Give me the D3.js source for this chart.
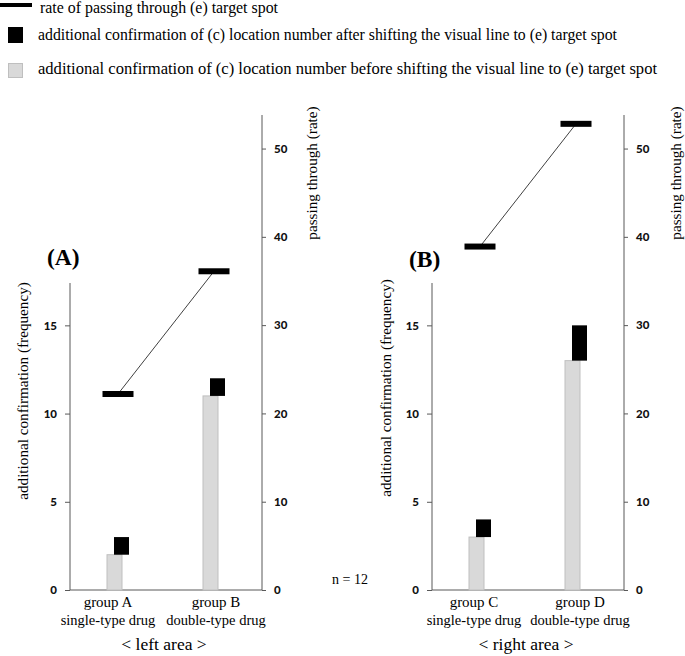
<!DOCTYPE html>
<html>
<head>
<meta charset="utf-8">
<script src="https://cdn.jsdelivr.net/npm/d3@7"></script>
<style>
  html, body { margin: 0; padding: 0; background: #fff; }
  svg { display: block; }
</style>
</head>
<body>
<svg id="chart" width="685" height="656"></svg>
<script>
// ---------- data ----------
const categories = ["group A", "group B", "group C", "group D"];
const drugTypes = ["single-type drug", "double-type drug", "single-type drug", "double-type drug"];
const panelNames = ["(A)", "(B)"];
const areaNames = ["< left area >", "< right area >"];
const beforeFreq = [2, 11, 3, 13];     // before shifting (grey bar)
const afterFreq = [3, 12, 4, 15];      // after shifting (black block top)
const passRate = [22.2, 36.1, 38.9, 52.8];
const freqTicks = [0, 5, 10, 15];
const rateTicks = [0, 10, 20, 30, 40, 50];
const legendLabels = [
  "rate of passing through (e) target spot",
  "additional confirmation of (c) location number after shifting the visual line to (e) target spot",
  "additional confirmation of (c) location number before shifting the visual line to (e) target spot"
];
const freqTitle = "additional confirmation (frequency)";
const rateTitle = "passing through (rate)";
const sampleNote = "n = 12";

// ---------- layout ----------
const svg = d3.select("#chart");
const serif = "'Liberation Serif', 'Times New Roman', serif";
const tickFont = "Lato, 'Open Sans', sans-serif";
const axisColor = "#595959";
const greyFill = "#d9d9d9", greyStroke = "#bfbfbf";

const yBottom = 590;
const freqMax = 17.4, rateMax = 53.8;
const yFreq = d3.scaleLinear().domain([0, freqMax]).range([yBottom, 283]);
const yRate = d3.scaleLinear().domain([0, rateMax]).range([yBottom, 115]);

const panels = [
  { left: 70, right: 262, idx: [0, 1], titleX: 47, titleY: 265, labelDx: [-10, 2],
    freqTitleX: 28, freqTitleY: 391, rateTitleX: 317, rateTitleY: 173 },
  { left: 432, right: 624, idx: [2, 3], titleX: 409, titleY: 267, labelDx: [-6, 4],
    freqTitleX: 391, freqTitleY: 388, rateTitleX: 681, rateTitleY: 173 }
];

const series = ["before", "after"];
const xSub = d3.scalePoint().domain(series).range([-3.5, 3.5]);
const barW = 15, rateW = 31, rateH = 6;

panels.forEach((p, pi) => {
  const cats = p.idx.map(i => categories[i]);
  const x = d3.scaleBand().domain(cats).range([p.left, p.right]).padding(0);
  const cx = c => x(c) + x.bandwidth() / 2;
  const g = svg.append("g");

  const axL = g.append("g").attr("transform", `translate(${p.left},0)`)
    .call(d3.axisLeft(yFreq).tickValues(freqTicks).tickSize(5).tickPadding(8).tickFormat(d3.format("d")));
  const axR = g.append("g").attr("transform", `translate(${p.right},0)`)
    .call(d3.axisRight(yRate).tickValues(rateTicks).tickSize(4).tickPadding(8).tickFormat(d3.format("d")));
  [axL, axR].forEach(a => {
    a.select(".domain").remove();
    a.selectAll(".tick line").attr("stroke", axisColor);
    a.selectAll(".tick text").attr("font-family", tickFont).attr("font-weight", "900")
      .attr("font-size", 11.5).attr("fill", "#111");
  });
  g.append("line").attr("x1", p.left).attr("x2", p.left)
    .attr("y1", yFreq(0)).attr("y2", yFreq(freqMax)).attr("stroke", axisColor);
  g.append("line").attr("x1", p.right).attr("x2", p.right)
    .attr("y1", yRate(0)).attr("y2", yRate(rateMax)).attr("stroke", axisColor);
  g.append("line").attr("x1", p.left).attr("x2", p.right)
    .attr("y1", yFreq(0)).attr("y2", yFreq(0)).attr("stroke", axisColor);

  const rows = p.idx.map(i => ({ cat: categories[i], drug: drugTypes[i],
    before: beforeFreq[i], after: afterFreq[i], rate: passRate[i] }));

  g.selectAll("rect.before").data(rows).join("rect").attr("class", "before")
    .attr("x", d => cx(d.cat) + xSub("before") - barW / 2)
    .attr("width", barW)
    .attr("y", d => yFreq(d.before))
    .attr("height", d => yFreq(0) - yFreq(d.before))
    .attr("fill", greyFill).attr("stroke", greyStroke).attr("stroke-width", 1);

  g.selectAll("rect.after").data(rows).join("rect").attr("class", "after")
    .attr("x", d => cx(d.cat) + xSub("after") - barW / 2)
    .attr("width", barW)
    .attr("y", d => yFreq(d.after))
    .attr("height", d => yFreq(d.before) - yFreq(d.after))
    .attr("fill", "#000");

  const line = d3.line().x(d => cx(d.cat)).y(d => yRate(d.rate));
  g.append("path").datum(rows).attr("d", line).attr("fill", "none")
    .attr("stroke", "#404040").attr("stroke-width", 1);
  g.selectAll("rect.rate").data(rows).join("rect").attr("class", "rate")
    .attr("x", d => cx(d.cat) - rateW / 2).attr("width", rateW)
    .attr("y", d => yRate(d.rate) - rateH / 2).attr("height", rateH)
    .attr("fill", "#000");

  g.selectAll("text.cat").data(rows).join("text").attr("class", "cat")
    .attr("x", (d, i) => cx(d.cat) + p.labelDx[i]).attr("y", 607)
    .attr("text-anchor", "middle").attr("font-family", serif).attr("font-size", 15)
    .text(d => d.cat);
  g.selectAll("text.drug").data(rows).join("text").attr("class", "drug")
    .attr("x", (d, i) => cx(d.cat) + p.labelDx[i]).attr("y", 625)
    .attr("text-anchor", "middle").attr("font-family", serif).attr("font-size", 14.5)
    .text(d => d.drug);
  g.append("text").attr("x", (p.left + p.right) / 2 - 2).attr("y", 650)
    .attr("text-anchor", "middle").attr("font-family", serif).attr("font-size", 17.5)
    .text(areaNames[pi]);

  g.append("text").attr("x", p.titleX).attr("y", p.titleY)
    .attr("font-family", serif).attr("font-weight", "bold").attr("font-size", 23.5)
    .text(panelNames[pi]);

  g.append("text").attr("transform", `translate(${p.freqTitleX},${p.freqTitleY}) rotate(-90)`)
    .attr("text-anchor", "middle").attr("font-family", serif).attr("font-size", 15.2)
    .text(freqTitle);
  g.append("text").attr("transform", `translate(${p.rateTitleX},${p.rateTitleY}) rotate(-90)`)
    .attr("text-anchor", "middle").attr("font-family", serif).attr("font-size", 15.2)
    .text(rateTitle);
});

svg.append("text").attr("x", 332).attr("y", 584).attr("font-family", serif)
  .attr("font-size", 14).text(sampleNote);

// ---------- legend ----------
const lg = svg.append("g");
lg.append("rect").attr("x", 0).attr("y", 3).attr("width", 32).attr("height", 4).attr("fill", "#000");
lg.append("rect").attr("x", 8).attr("y", 27).attr("width", 15).attr("height", 16).attr("fill", "#000");
lg.append("rect").attr("x", 8.5).attr("y", 63.5).attr("width", 14).attr("height", 14)
  .attr("fill", greyFill).attr("stroke", greyStroke);
const legendPos = [[40, 12.5], [38, 39.5], [38, 74]];
const legendLen = [238, 579, 619];
lg.selectAll("text").data(legendLabels).join("text")
  .attr("x", (d, i) => legendPos[i][0]).attr("y", (d, i) => legendPos[i][1])
  .attr("font-family", serif).attr("font-size", 16)
  .attr("textLength", (d, i) => legendLen[i]).attr("lengthAdjust", "spacingAndGlyphs")
  .text(d => d);
</script>
</body>
</html>
